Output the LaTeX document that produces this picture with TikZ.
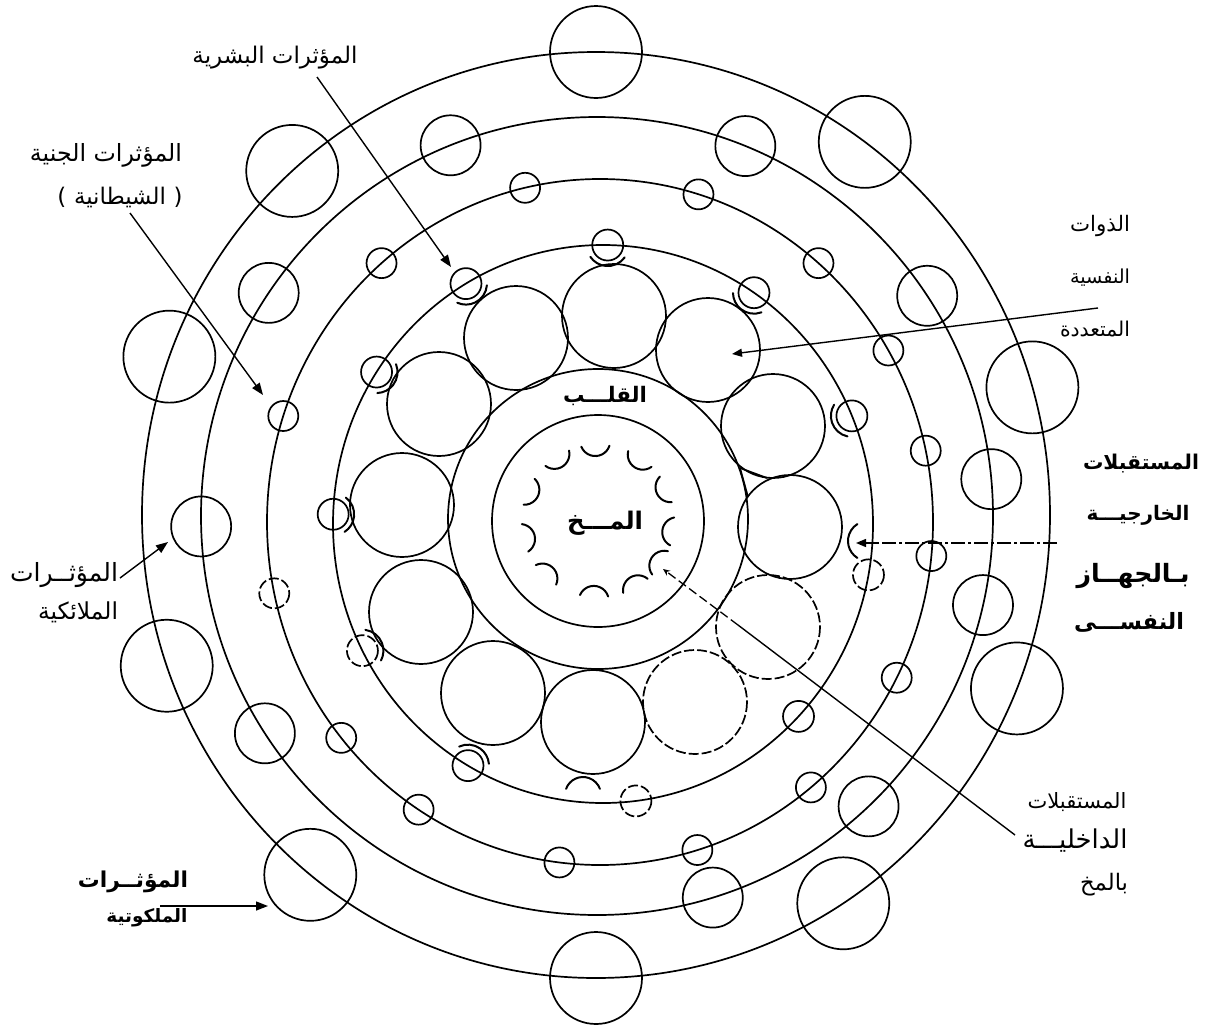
\documentclass[tikz,border=0pt]{standalone}
\usepackage{fontspec}
\usepackage{graphicx}
\usetikzlibrary{arrows.meta}
\newfontfamily\arabicfont[Script=Arabic]{DejaVu Sans}
\newfontfamily\latinfont{DejaVu Sans}
\TeXXeTstate=1
\newcommand{\artxt}[2]{\resizebox{#1pt}{!}{\arabicfont\beginR #2\endR}}
\newcommand{\artxtb}[2]{\resizebox{#1pt}{!}{\arabicfont\bfseries\beginR #2\endR}}
\begin{document}
\begin{tikzpicture}[x=1pt,y=-1pt,
  ln/.style={line width=1.7pt},
  dsh/.style={line width=1.7pt, dash pattern=on 10pt off 3pt},
  cupl/.style={line width=2pt, line cap=round},
  lbl/.style={inner sep=0pt, anchor=center},
  arr/.style={line width=1.4pt, -{Triangle[length=12pt,width=9pt]}},
  arrs/.style={line width=1.4pt, -{Triangle[length=10pt,width=8pt]}},
  dashdot/.style={line width=1.4pt, dash pattern=on 14pt off 3pt on 3pt off 3pt},
]
\fill[white] (0,0) rectangle (1208,1031);
\useasboundingbox (0,0) rectangle (1208,1031);

% ---------- rings ----------
\draw[ln] (596,515) ellipse[x radius=454, y radius=463];
\draw[ln] (597,516) ellipse[x radius=396, y radius=399];
\draw[ln] (600,522) ellipse[x radius=333, y radius=343];
\draw[ln] (603,524) ellipse[x radius=270, y radius=279];

% ring 1 circles (malakut)
\foreach \t in {-90,-53.7,-16,22,57,90,129,161,200,228}
  \draw[ln] ({596+454*cos(\t)},{515+463*sin(\t)}) circle[radius=46];
% ring 2 circles (angelic)
\foreach \t in {-111.7,-68,-146,-33.5,-5.3,12.9,46.7,73,147,178.5}
  \draw[ln] ({597+396*cos(\t)},{516+399*sin(\t)}) circle[radius=30];
% ring 3 circles (jinn)
\foreach \t in {-103,-72.8,-49,-131,-30,-12,5.7,27,50.7,73,97,123,141,198}
  \draw[ln] ({600+333*cos(\t)},{522+343*sin(\t)}) circle[radius=15];
\draw[dsh] ({600+333*cos(168)},{522+343*sin(168)}) circle[radius=15];

% ring 4 circles (human) with cups
\foreach \t in {-120.5,-89,-56,-22.8,120,182,213} {
  \pgfmathsetmacro\px{603+270*cos(\t)}
  \pgfmathsetmacro\py{524+279*sin(\t)}
  \pgfmathsetmacro\sa{\t+125}
  \pgfmathsetmacro\ea{\t+235}
  \draw[ln] (\px,\py) circle[radius=15.5];
  \draw[cupl] ({\px+21*cos(\sa)},{\py+21*sin(\sa)}) arc[start angle=\sa, end angle=\ea, radius=21];
}
\foreach \t in {153} {
  \pgfmathsetmacro\px{603+270*cos(\t)}
  \pgfmathsetmacro\py{524+279*sin(\t)}
  \pgfmathsetmacro\sa{\t+125}
  \pgfmathsetmacro\ea{\t+235}
  \draw[dsh] (\px,\py) circle[radius=15.5];
  \draw[cupl] ({\px+21*cos(\sa)},{\py+21*sin(\sa)}) arc[start angle=\sa, end angle=\ea, radius=21];
}
\foreach \t in {10.5,83}
  \draw[dsh] ({603+270*cos(\t)},{524+279*sin(\t)}) circle[radius=15.5];
\draw[ln] ({603+270*cos(43.6)},{524+279*sin(43.6)}) circle[radius=15.5];

% separate cup at the right (external receptor)
\draw[cupl] ({868+20*cos(122)},{541+20*sin(122)}) arc[start angle=122, end angle=238, radius=20];
% cup below lowest self circle
\draw[cupl] ({583+18*cos(200)},{795+18*sin(200)}) arc[start angle=200, end angle=340, radius=18];

% ---------- multiple selves (12 circles) ----------
\foreach \p in {(614,316),(708,350),(773,426),(790,527),(593,722),(493,693),(421,612),(402,505),(439,404),(516,338)}
  \draw[ln] \p circle[radius=52];
\foreach \p in {(768,627),(695,702)}
  \draw[dsh] \p circle[radius=52];

% ---------- heart and brain ----------
\draw[ln] (598,519) circle[radius=150];
\draw[ln] (740,468) -- (767,478);
\draw[ln] (740,468) -- (748,497);
\draw[ln] (598,521) circle[radius=106];
\foreach \a in {-92,-56,-25,8,34,60,93,134,167,203,237} {
  \pgfmathsetmacro\cx{598+80*cos(\a)}
  \pgfmathsetmacro\cy{521+80*sin(\a)}
  \pgfmathsetmacro\sa{\a+110}
  \pgfmathsetmacro\ea{\a+250}
  \draw[cupl] ({\cx+15*cos(\sa)},{\cy+15*sin(\sa)}) arc[start angle=\sa, end angle=\ea, radius=15];
}

% ---------- labels ----------
\node[lbl] (heart) at (605,396) {\artxtb{84}{القلـــب}};
\node[lbl] (brain) at (605,523) {\artxtb{76}{المـــخ}};

\node[lbl] (lBash) at (275,58) {\resizebox{165pt}{!}{\arabicfont\beginR المؤثرات البشرية\endR}};
\node[lbl] (lJinnA) at (106,155) {\resizebox{152pt}{!}{\arabicfont\beginR المؤثرات الجنية\endR}};
\node[lbl] (lJinnB) at (120,197) {\resizebox{125pt}{!}{{\latinfont (}\ {\arabicfont\beginR الشيطانية\endR}\ {\latinfont )}}};
\node[lbl] (lSelfA) at (1100,226) {\artxt{60}{الذوات}};
\node[lbl] (lSelfB) at (1100,278) {\artxt{60}{النفسية}};
\node[lbl] (lSelfC) at (1095,329) {\artxt{70}{المتعددة}};
\node[lbl] (lExtA) at (1141,464) {\artxtb{116}{المستقبلات}};
\node[lbl] (lExtB) at (1138,515) {\artxtb{103}{الخارجيـــة}};
\node[lbl] (lExtC) at (1133,576) {\artxtb{113}{بـالجهــاز}};
\node[lbl] (lExtD) at (1129,622) {\artxtb{110}{النفســـى}};
\node[lbl] (lAngA) at (64,575) {\artxt{108}{المؤثــرات}};
\node[lbl] (lAngB) at (78,612) {\artxt{80}{الملائكية}};
\node[lbl] (lMalA) at (133,882) {\artxtb{110}{المؤثــرات}};
\node[lbl] (lMalB) at (147,918) {\artxtb{81}{الملكوتية}};
\node[lbl] (lIntA) at (1077,802) {\artxt{99}{المستقبلات}};
\node[lbl] (lIntB) at (1075,841) {\artxt{105}{الداخليـــة}};
\node[lbl] (lIntC) at (1104,885) {\artxt{48}{بالمخ}};

% ---------- connectors ----------
\coordinate (bashS) at (317,77);   \coordinate (bashE) at (451,267);
\coordinate (jinnS) at (130,213);  \coordinate (jinnE) at (263,395);
\coordinate (selfS) at (1098,308); \coordinate (selfE) at (732,354);
\coordinate (extS) at (1057,543);  \coordinate (extM) at (877,543);
\coordinate (extE) at (856,543);
\coordinate (angS) at (120,578);   \coordinate (angE) at (168,542);
\coordinate (malS) at (160,906);   \coordinate (malE) at (268,906);
\coordinate (intS) at (1015,835);  \coordinate (intM) at (738,625);
\coordinate (intE) at (663,569);

\draw[arr] (bashS) -- (bashE);
\draw[arr] (jinnS) -- (jinnE);
\draw[arrs] (selfS) -- (selfE);
\draw[dashdot] (extS) -- (extM);
\draw[arrs] (extM) -- (extE);
\draw[arr] (angS) -- (angE);
\draw[arr] (malS) -- (malE);
\draw[line width=1.4pt] (intS) -- (intM);
\draw[line width=1.3pt, dash pattern=on 9pt off 4pt, -{Stealth[length=7pt,width=6pt]}] (intM) -- (intE);
\end{tikzpicture}
\end{document}
